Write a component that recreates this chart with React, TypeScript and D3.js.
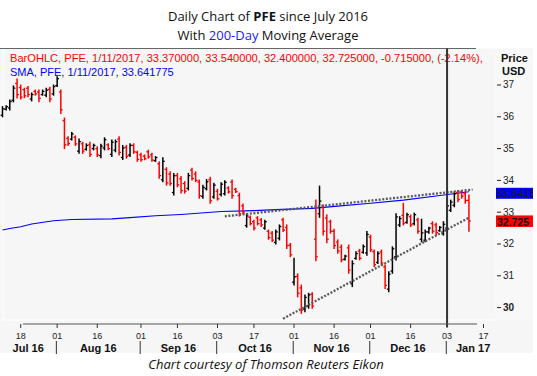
import React from "react";
import * as d3 from "d3";

// Trading days (plus a few future weekday slots used by the axis)
const DATES = `
2016-07-11 2016-07-12 2016-07-13 2016-07-14 2016-07-15 2016-07-18 2016-07-19 2016-07-20 2016-07-21 2016-07-22 2016-07-25 2016-07-26 2016-07-27 2016-07-28 2016-07-29
2016-08-01 2016-08-02 2016-08-03 2016-08-04 2016-08-05 2016-08-08 2016-08-09 2016-08-10 2016-08-11 2016-08-12 2016-08-15 2016-08-16 2016-08-17 2016-08-18 2016-08-19 2016-08-22 2016-08-23 2016-08-24 2016-08-25 2016-08-26 2016-08-29 2016-08-30 2016-08-31
2016-09-01 2016-09-02 2016-09-06 2016-09-07 2016-09-08 2016-09-09 2016-09-12 2016-09-13 2016-09-14 2016-09-15 2016-09-16 2016-09-19 2016-09-20 2016-09-21 2016-09-22 2016-09-23 2016-09-26 2016-09-27 2016-09-28 2016-09-29 2016-09-30
2016-10-03 2016-10-04 2016-10-05 2016-10-06 2016-10-07 2016-10-10 2016-10-11 2016-10-12 2016-10-13 2016-10-14 2016-10-17 2016-10-18 2016-10-19 2016-10-20 2016-10-21 2016-10-24 2016-10-25 2016-10-26 2016-10-27 2016-10-28 2016-10-31
2016-11-01 2016-11-02 2016-11-03 2016-11-04 2016-11-07 2016-11-08 2016-11-09 2016-11-10 2016-11-11 2016-11-14 2016-11-15 2016-11-16 2016-11-17 2016-11-18 2016-11-21 2016-11-22 2016-11-23 2016-11-25 2016-11-28 2016-11-29 2016-11-30
2016-12-01 2016-12-02 2016-12-05 2016-12-06 2016-12-07 2016-12-08 2016-12-09 2016-12-12 2016-12-13 2016-12-14 2016-12-15 2016-12-16 2016-12-19 2016-12-20 2016-12-21 2016-12-22 2016-12-23 2016-12-27 2016-12-28 2016-12-29 2016-12-30
2017-01-03 2017-01-04 2017-01-05 2017-01-06 2017-01-09 2017-01-10 2017-01-11
2017-01-12 2017-01-13 2017-01-16 2017-01-17
`.trim().split(/\s+/);

const OPEN = [
  36.05, 36.24, 36.28, 36.52, 37.05, 36.92, 36.85, 36.9, 36.56, 36.8, 36.78, 36.7, 36.68, 36.86, 36.72,
  36.98, 36.78, 35.88, 35.32, 35.3, 35.36, 34.92, 35.15, 34.98, 35.12, 35.0, 35.0, 34.78, 35.02, 35.12, 34.82, 34.95, 35.3, 34.72, 35.04, 34.8, 35.1, 34.88,
  34.8, 34.76, 34.9, 34.8, 34.62, 34.52, 34.02, 34.35, 34.2, 33.62, 34.15, 34.05, 33.9, 33.75, 34.32, 34.2, 33.95, 33.5, 33.74, 34.02, 33.48,
  33.66, 33.56, 33.58, 33.76, 33.95, 33.72, 33.52, 33.2, 32.58, 32.84, 32.7, 32.82, 32.76, 32.5, 32.4, 32.34, 32.05, 32.18, 32.76, 32.52, 31.96, 30.8,
  30.98, 30.62, 29.95, 30.05, 30.42, 32.15, 32.95, 33.15, 32.82, 32.7, 32.4, 32.06, 31.9, 31.52, 31.88, 30.75, 31.55, 31.78, 31.74, 31.72, 32.22,
  31.76, 31.42, 31.75, 31.28, 30.58, 31.15, 31.6, 32.6, 32.9, 32.68, 32.86, 32.64, 32.76, 32.15, 32.12, 32.38, 32.64, 32.6, 32.42, 32.32,
  32.5, 33.06, 33.22, 33.62, 33.64, 33.58, 33.37,
];
const HIGH = [
  36.32, 36.35, 36.53, 36.97, 37.19, 37.0, 36.9, 36.95, 36.75, 36.84, 36.84, 36.84, 36.9, 36.93, 37.0,
  37.26, 36.84, 35.96, 35.37, 35.51, 35.4, 35.3, 35.2, 35.15, 35.2, 35.14, 35.06, 35.14, 35.34, 35.15, 35.27, 35.27, 35.37, 35.1, 35.1, 35.15, 35.15, 34.92,
  34.85, 34.8, 34.95, 34.85, 34.75, 34.59, 34.71, 34.4, 34.27, 34.22, 34.22, 34.12, 33.96, 34.22, 34.38, 34.27, 34.01, 33.85, 34.03, 34.1, 33.91,
  33.72, 33.93, 33.99, 33.8, 34.01, 33.75, 33.6, 33.26, 32.94, 32.88, 32.75, 32.86, 32.8, 32.75, 32.44, 32.39, 32.44, 32.6, 32.81, 32.6, 32.02, 31.55,
  31.06, 30.71, 30.4, 30.45, 30.47, 33.38, 33.82, 33.23, 32.91, 32.75, 32.46, 32.13, 31.97, 31.65, 31.97, 31.47, 31.76, 31.83, 31.97, 32.39, 32.28,
  31.81, 31.76, 31.81, 31.34, 31.13, 31.91, 32.95, 32.86, 33.28, 32.97, 32.91, 32.97, 32.81, 32.78, 32.44, 32.53, 32.7, 32.65, 32.55, 32.7,
  33.28, 33.38, 33.64, 33.68, 33.68, 33.64, 33.54,
];
const LOW = [
  36.0, 36.21, 36.21, 36.47, 36.59, 36.56, 36.6, 36.63, 36.5, 36.68, 36.47, 36.68, 36.63, 36.47, 36.68,
  36.95, 36.1, 35.0, 35.1, 35.27, 35.1, 34.85, 34.85, 34.95, 34.75, 34.96, 34.75, 34.71, 34.96, 34.96, 34.75, 34.9, 34.8, 34.66, 34.7, 34.75, 34.85, 34.6,
  34.6, 34.65, 34.7, 34.6, 34.6, 34.07, 33.96, 33.85, 33.85, 33.54, 33.8, 33.6, 33.6, 33.7, 34.01, 33.96, 33.44, 33.44, 33.7, 33.28, 33.44,
  33.38, 33.51, 33.54, 33.6, 33.44, 33.62, 32.88, 32.94, 32.53, 32.6, 32.44, 32.6, 32.55, 32.46, 32.15, 32.08, 32.0, 32.13, 32.39, 31.86, 31.6, 30.71,
  30.34, 29.82, 29.87, 29.98, 29.98, 31.47, 32.84, 32.28, 32.04, 32.34, 31.86, 31.71, 31.44, 31.5, 31.08, 30.66, 31.52, 31.5, 31.71, 31.65, 31.76,
  31.29, 31.39, 31.34, 30.6, 30.5, 31.08, 31.5, 32.55, 32.6, 32.65, 32.55, 32.6, 32.34, 32.07, 32.07, 32.34, 32.34, 32.3, 32.4, 32.28,
  32.4, 33.02, 33.17, 33.33, 33.44, 33.28, 32.4,
];
const CLOSE = [
  36.25, 36.32, 36.48, 36.9, 36.7, 36.62, 36.66, 36.7, 36.7, 36.72, 36.58, 36.8, 36.84, 36.56, 36.95,
  37.2, 36.22, 35.12, 35.16, 35.46, 35.15, 35.22, 34.92, 35.1, 34.82, 35.1, 34.8, 35.08, 35.28, 35.0, 35.2, 35.22, 34.88, 35.02, 34.76, 35.1, 34.9, 34.66,
  34.65, 34.68, 34.74, 34.64, 34.72, 34.15, 34.6, 33.92, 33.9, 34.15, 33.86, 33.68, 33.66, 34.15, 34.06, 34.0, 33.52, 33.78, 33.96, 33.36, 33.85,
  33.42, 33.88, 33.94, 33.64, 33.52, 33.65, 32.95, 33.0, 32.88, 32.64, 32.5, 32.64, 32.6, 32.7, 32.2, 32.12, 32.38, 32.55, 32.44, 31.95, 31.66, 30.97,
  30.45, 29.92, 30.32, 30.4, 30.05, 31.6, 33.35, 32.4, 32.15, 32.4, 31.95, 31.78, 31.5, 31.62, 31.18, 31.38, 31.7, 31.55, 31.92, 32.3, 31.82,
  31.35, 31.7, 31.4, 30.7, 31.05, 31.85, 32.85, 32.8, 32.65, 32.92, 32.6, 32.92, 32.4, 32.35, 32.38, 32.5, 32.4, 32.36, 32.52, 32.62,
  33.2, 33.32, 33.58, 33.4, 33.5, 33.37, 32.725,
];

// 200-day SMA, read at points along the line
const SMA_DATES = [
  "2016-07-11", "2016-07-13", "2016-07-18", "2016-07-21", "2016-07-29", "2016-08-05", "2016-08-22",
  "2016-08-29", "2016-09-08", "2016-09-19", "2016-10-04", "2016-10-17", "2016-10-25", "2016-11-08",
  "2016-11-17", "2016-12-01", "2016-12-14", "2016-12-28", "2017-01-11",
];
const SMA_VALUES = [
  32.44, 32.49, 32.54, 32.63, 32.73, 32.77, 32.79, 32.83, 32.89, 32.93, 33.02, 33.05, 33.08, 33.12,
  33.19, 33.28, 33.38, 33.51, 33.641775,
];

// Hand-drawn trend lines (dotted)
const UPPER_TREND_DATES = ["2016-10-05", "2017-01-12"];
const UPPER_TREND_VALUES = [32.87, 33.71];
const LOWER_TREND_DATES = ["2016-10-27", "2017-01-11"];
const LOWER_TREND_VALUES = [29.65, 32.83];

const PRICE_TICKS = [30, 31, 32, 33, 34, 35, 36, 37];
const DAY_TICKS = [
  "2016-07-18", "2016-08-01", "2016-08-16", "2016-09-01", "2016-09-16", "2016-10-03", "2016-10-17",
  "2016-11-01", "2016-11-16", "2016-12-01", "2016-12-16", "2017-01-03", "2017-01-17",
];
const MONTH_LABELS = ["Jul 16", "Aug 16", "Sep 16", "Oct 16", "Nov 16", "Dec 16", "Jan 17"];
const MONTH_STARTS = ["2016-07-11", "2016-08-01", "2016-09-01", "2016-10-03", "2016-11-01", "2016-12-01", "2017-01-03"];

const MARKER_DATE = "2017-01-03";
const LAST_CLOSE = 32.725;
const LAST_SMA = 33.641775;

const LEGEND_BAR = "BarOHLC, PFE,  1/11/2017, 33.370000, 33.540000, 32.400000, 32.725000, -0.715000, (-2.14%),";
const LEGEND_SMA = "SMA, PFE,  1/11/2017, 33.641775";

export default function App() {
  const W = 537;
  const H = 376;
  const step = 3.644;
  const x = d3
    .scalePoint<string>()
    .domain(DATES)
    .range([2.5, 2.5 + step * (DATES.length - 1)]);
  const y = d3.scaleLinear().domain([30, 37]).range([307.6, 85]);
  const parse = d3.timeParse("%Y-%m-%d");
  const fmtDay = d3.timeFormat("%d");

  const bars = CLOSE.map((c, i) => ({
    date: DATES[i],
    o: OPEN[i],
    h: HIGH[i],
    l: LOW[i],
    c,
  }));

  const smaLine = d3
    .line<number>()
    .x((_, i) => x(SMA_DATES[i])!)
    .y((v) => y(v));

  const sans = "'Liberation Sans', Arial, sans-serif";
  const human = "'Open Sans', 'Noto Sans', sans-serif";

  const plotLeft = 3;
  const plotRight = 495;
  const plotTop = 48.5;
  const plotBottom = 320;
  const axisY = 324;

  const monthSeps = MONTH_STARTS.map((d) => x(d)! - 0.8);
  const monthCenters = MONTH_LABELS.map((_, i) => {
    const a = i === 0 ? 0 : monthSeps[i];
    const b = i < MONTH_LABELS.length - 1 ? monthSeps[i + 1] : 500;
    return (a + b) / 2;
  });

  return (
    <svg
      width={W}
      height={H}
      style={{ position: "absolute", left: 0, top: 0, background: "#fff" }}
    >
      <defs>
        <clipPath id="rightPanel">
          <rect x={0} y={0} width={533} height={H} />
        </clipPath>
      </defs>

      {/* Title */}
      <text x={268} y={21} textAnchor="middle" fontFamily={human} fontSize={13} fill="#111">
        <tspan>Daily Chart of </tspan>
        <tspan fontWeight="bold">PFE</tspan>
        <tspan> since July 2016</tspan>
      </text>
      <text x={268} y={40} textAnchor="middle" fontFamily={human} fontSize={13} fill="#111">
        <tspan>With </tspan>
        <tspan fill="#1a1aff">200-Day</tspan>
        <tspan> Moving Average</tspan>
      </text>

      {/* Panel backgrounds */}
      <rect x={0} y={plotTop} width={533} height={353 - plotTop} fill="#f6f6f6" />
      <rect x={plotRight} y={plotTop} width={533 - plotRight} height={plotBottom - plotTop} fill="#f8f8f8" />
      <line x1={plotLeft} x2={plotLeft} y1={plotTop} y2={plotBottom} stroke="#ffffff" strokeWidth={1} />
      <line x1={plotLeft} x2={plotRight} y1={plotBottom} y2={plotBottom} stroke="#ffffff" strokeWidth={1} />
      <line x1={0} x2={476} y1={plotTop} y2={plotTop} stroke="#666" strokeWidth={1} />

      {/* Legend */}
      <text x={10} y={62} fontFamily={sans} fontSize={11.1} fill="#ff0000">
        {LEGEND_BAR}
      </text>
      <text x={10} y={76} fontFamily={sans} fontSize={11} fill="#0000ff">
        {LEGEND_SMA}
      </text>
      <text x={501} y={62} fontFamily={sans} fontSize={11} fontWeight="bold" fill="#111">
        Price
      </text>
      <text x={502} y={75} fontFamily={sans} fontSize={11} fontWeight="bold" fill="#111">
        USD
      </text>

      {/* SMA */}
      <path d={smaLine(SMA_VALUES) ?? ""} fill="none" stroke="#0000ff" strokeWidth={1.1} />

      {/* OHLC bars */}
      {bars.map((b) => {
        const cx = x(b.date)!;
        const col = b.c < b.o ? "#ff0000" : "#000000";
        return (
          <g key={b.date} stroke={col}>
            <line x1={cx} x2={cx} y1={y(b.h) - 0.5} y2={y(b.l) + 0.5} strokeWidth={1.5} />
            <line x1={cx - 1.9} x2={cx} y1={y(b.o)} y2={y(b.o)} strokeWidth={1.3} />
            <line x1={cx} x2={cx + 1.9} y1={y(b.c)} y2={y(b.c)} strokeWidth={1.3} />
          </g>
        );
      })}

      {/* Trend lines */}
      <line
        x1={x(UPPER_TREND_DATES[0])}
        y1={y(UPPER_TREND_VALUES[0])}
        x2={x(UPPER_TREND_DATES[1])}
        y2={y(UPPER_TREND_VALUES[1])}
        stroke="#5a5a5a"
        strokeWidth={2.3}
        strokeDasharray="2 1.6"
      />
      <line
        x1={x(LOWER_TREND_DATES[0])}
        y1={y(LOWER_TREND_VALUES[0])}
        x2={x(LOWER_TREND_DATES[1])}
        y2={y(LOWER_TREND_VALUES[1])}
        stroke="#5a5a5a"
        strokeWidth={2.3}
        strokeDasharray="2 1.6"
      />

      {/* Vertical marker */}
      <line
        x1={x(MARKER_DATE)}
        x2={x(MARKER_DATE)}
        y1={plotTop}
        y2={axisY + 3}
        stroke="#333"
        strokeWidth={2}
      />

      {/* Right price axis */}
      {PRICE_TICKS.map((t) => (
        <g key={t}>
          <line x1={497} x2={501} y1={y(t)} y2={y(t)} stroke="#222" strokeWidth={1} />
          <text
            x={503}
            y={y(t) + 3.3}
            fontFamily={sans}
            fontSize={10}
            fontWeight={t === 30 ? "bold" : "normal"}
            fill="#222"
          >
            {t}
          </text>
        </g>
      ))}

      {/* Last value boxes */}
      <g clipPath="url(#rightPanel)">
        <rect x={496} y={y(LAST_SMA) - 4} width={40} height={11} fill="#0000ff" />
        <text x={496} y={y(LAST_SMA) + 5} fontFamily={sans} fontSize={11} fill="#1a1a1a">
          {LAST_SMA.toFixed(4)}
        </text>
        <rect x={496} y={y(LAST_CLOSE) - 5.5} width={40} height={11.5} fill="#ff0000" />
        <text x={497} y={y(LAST_CLOSE) + 4.8} fontFamily={sans} fontSize={10.5} fontWeight="bold" fill="#111">
          {LAST_CLOSE.toFixed(3)}
        </text>
      </g>

      {/* Bottom axis */}
      <line x1={23} x2={477} y1={axisY} y2={axisY} stroke="#555" strokeWidth={1.2} />
      {DAY_TICKS.map((d) => {
        const tx = x(d)!;
        return (
          <g key={d}>
            <line x1={tx} x2={tx} y1={axisY} y2={axisY + 4} stroke="#333" strokeWidth={1} />
            <text x={tx} y={339} textAnchor="middle" fontFamily={sans} fontSize={9} fill="#222">
              {fmtDay(parse(d)!)}
            </text>
          </g>
        );
      })}
      {monthSeps.slice(1).map((sx, i) => (
        <line key={i} x1={sx} x2={sx} y1={341} y2={354} stroke="#333" strokeWidth={1} />
      ))}
      {MONTH_LABELS.map((m, i) => (
        <text
          key={m}
          x={monthCenters[i]}
          y={352}
          textAnchor="middle"
          fontFamily={sans}
          fontSize={11}
          fontWeight="bold"
          fill="#111"
        >
          {m}
        </text>
      ))}

      {/* Footer */}
      <text
        x={266}
        y={369}
        textAnchor="middle"
        fontFamily={human}
        fontSize={13}
        fontStyle="italic"
        fill="#111"
      >
        Chart courtesy of Thomson Reuters Eikon
      </text>
    </svg>
  );
}
